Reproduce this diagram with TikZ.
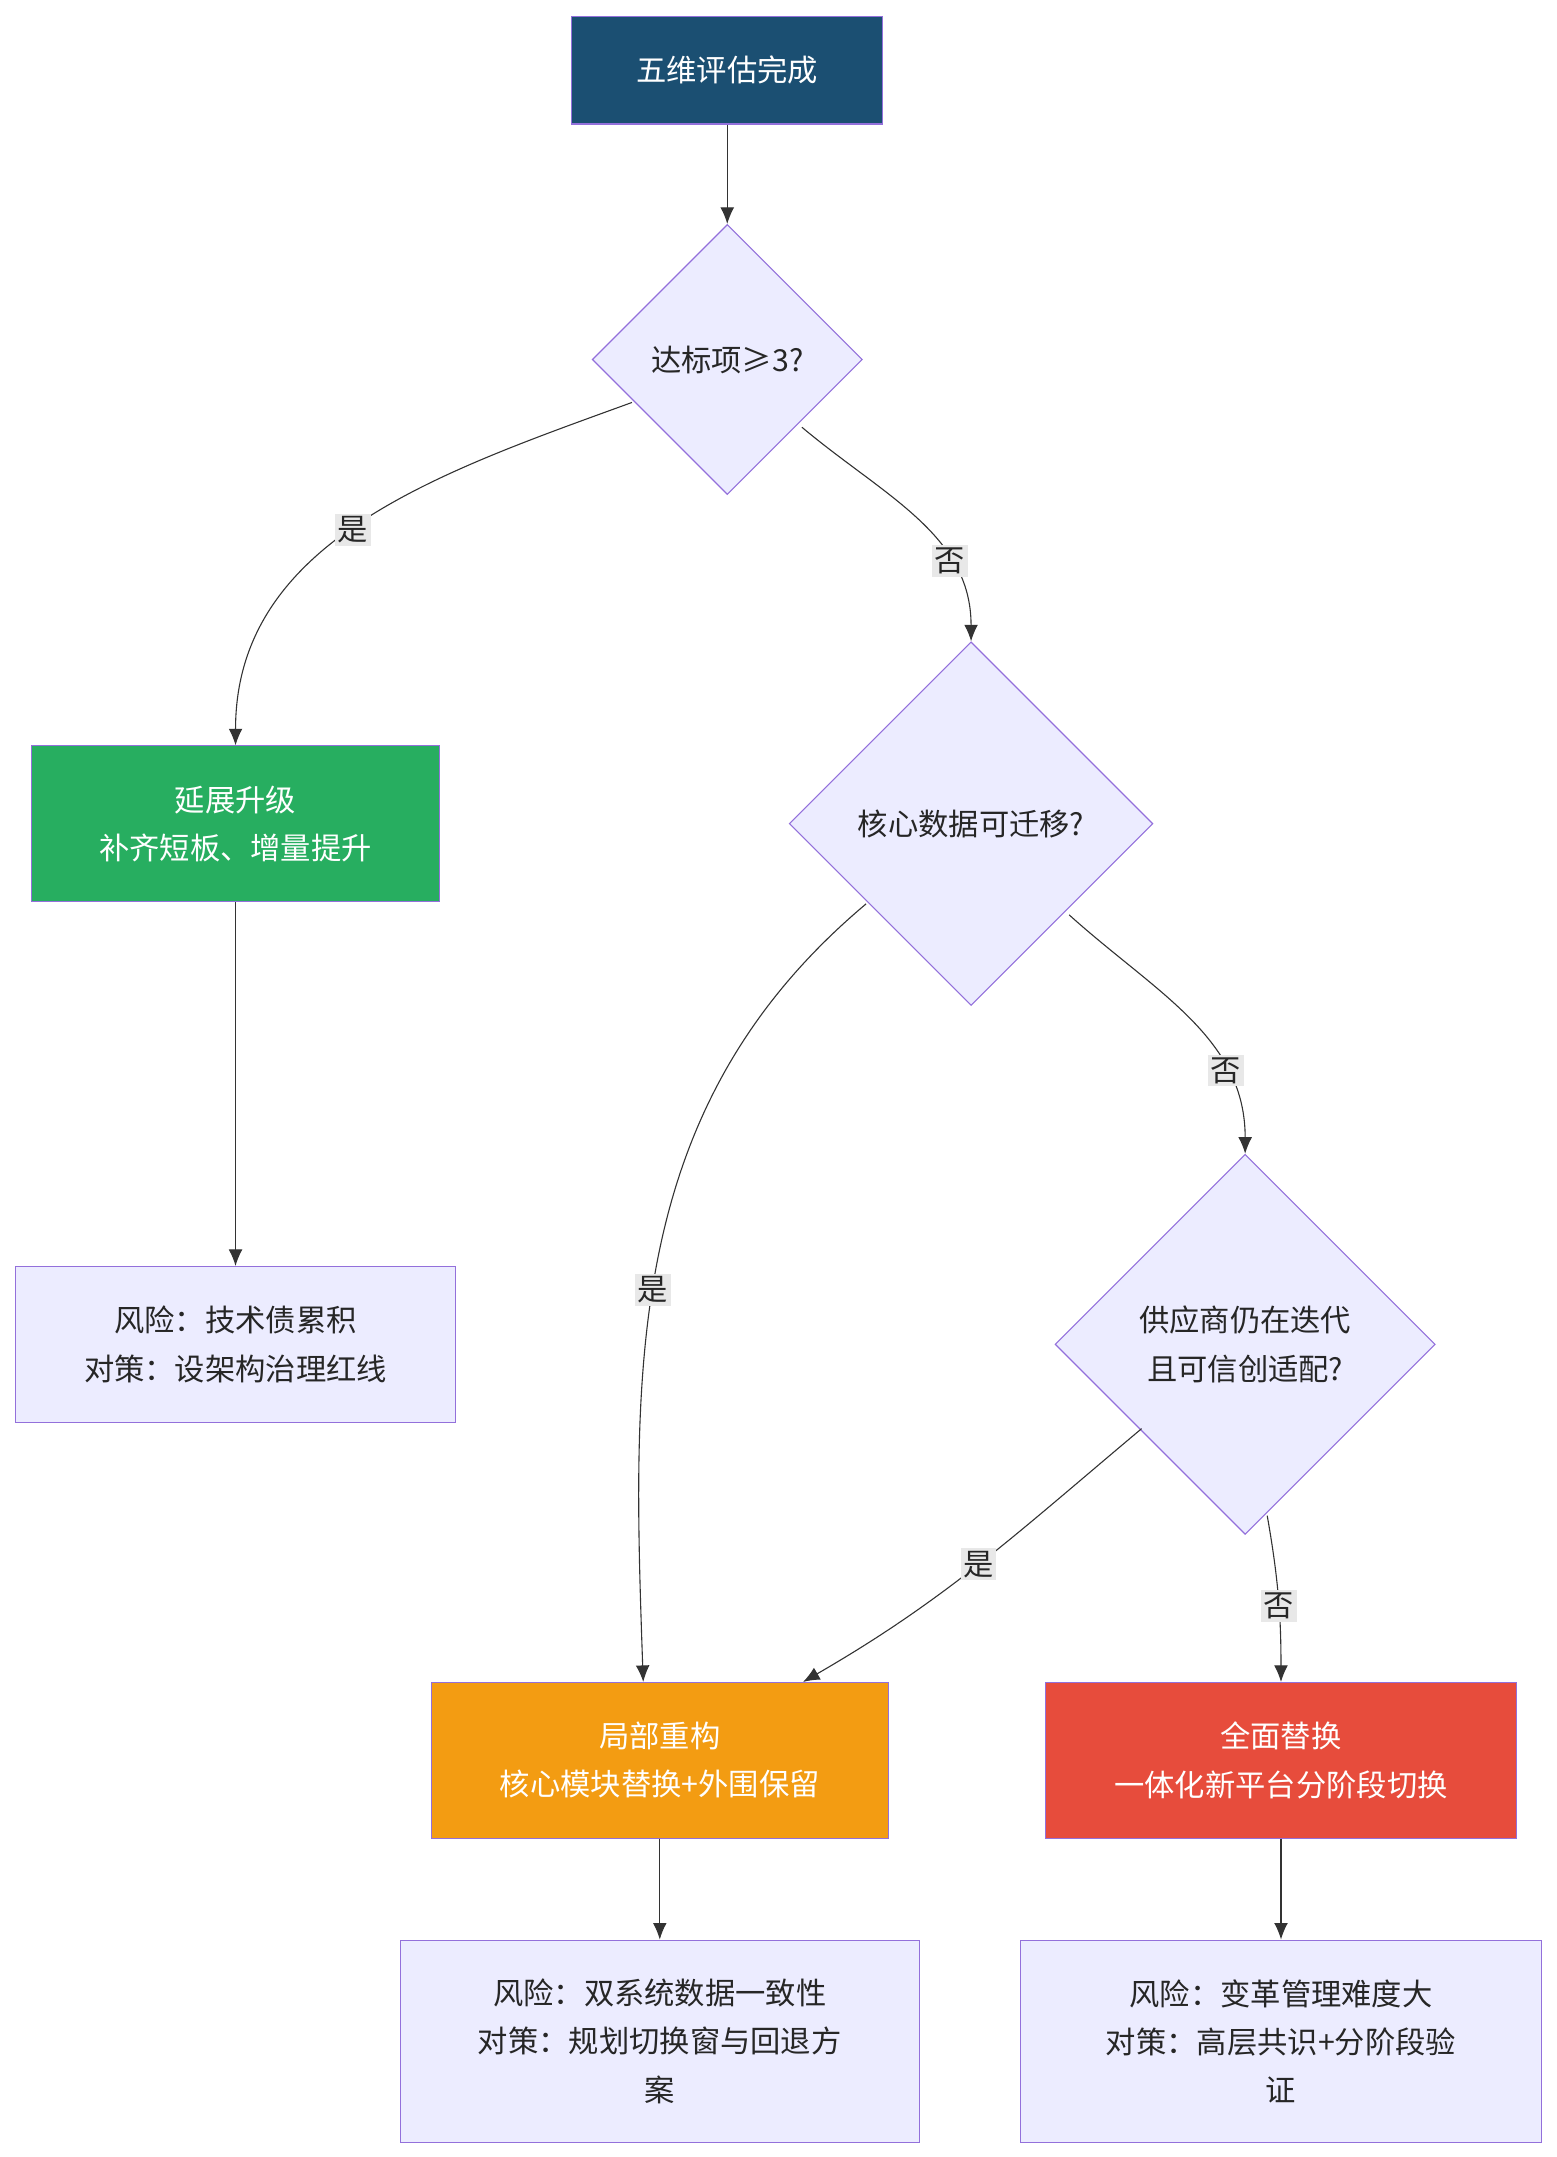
\documentclass[tikz,border=0pt]{standalone}
\usepackage{fontspec}
\setmainfont{Noto Sans CJK SC}
\usetikzlibrary{shapes.geometric,arrows.meta}
\definecolor{boxfill}{HTML}{ECECFF}
\definecolor{boxline}{HTML}{9370DB}
\begin{document}
\begin{tikzpicture}[
    x=0.5pt,y=-0.5pt,
    font=\fontsize{11}{17.5}\selectfont,
    box/.style={rectangle,draw=boxline,fill=boxfill,align=center,text=black!85,minimum height=56.5pt},
    decision/.style={diamond,aspect=1,draw=boxline,fill=boxfill,align=center,inner sep=0pt,text=black!85},
    line/.style={draw=black!80,-{Latex[length=6pt,width=5pt]}},
    lbl/.style={fill=black!9,inner sep=1pt,text=black!85}
]
\useasboundingbox (0,0) rectangle (1130,1566);

% start
\node[box,fill={rgb,255:red,27;green,79;blue,114},text=white,minimum width=113pt,minimum height=39pt] (start) at (528,51) {五维评估完成};

% decisions
\node[decision,minimum size=98pt] (d1) at (528,261) {达标项≥3?};
\node[decision,minimum size=132pt] (d2) at (705,598) {核心数据可迁移?};
\node[decision,minimum size=138pt] (d3) at (904,976) {供应商仍在迭代\\且可信创适配?};

% outcomes
\node[box,fill={rgb,255:red,39;green,174;blue,96},text=white,minimum width=148pt] (up) at (171,598) {延展升级\\补齐短板、增量提升};
\node[box,fill={rgb,255:red,243;green,156;blue,18},text=white,minimum width=166pt] (part) at (479,1278) {局部重构\\核心模块替换+外围保留};
\node[box,fill={rgb,255:red,231;green,76;blue,60},text=white,minimum width=171pt] (full) at (930,1278) {全面替换\\一体化新平台分阶段切换};

% risks
\node[box,minimum width=160pt] (r1) at (171,976) {风险：技术债累积\\对策：设架构治理红线};
\node[box,minimum width=188.5pt,minimum height=73.5pt] (r2) at (479,1482) {风险：双系统数据一致性\\对策：规划切换窗与回退方\\案};
\node[box,minimum width=189pt,minimum height=73.5pt] (r3) at (930,1482) {风险：变革管理难度大\\对策：高层共识+分阶段验\\证};

% edges
\draw[line] (start) -- (d1);
\draw[line] (d1.south west) ++(-20,-18) to[out=200,in=90] node[lbl,pos=0.52] {是} (up.north);
\draw[line] (d1.south east) ++(5,0) to[out=-40,in=90] node[lbl,pos=0.7] {否} (d2.north);
\draw[line] (up) -- (r1);
\draw[line] (d2.south west) ++(-10,-8) to[out=-140,in=92] node[lbl,pos=0.55] {是} ([xshift=-6pt]part.north);
\draw[line] (d2.south east) ++(5,0) to[out=-42,in=90] node[lbl,pos=0.72] {否} (d3.north);
\draw[line] (d3.south west) ++(-6,-8) to[out=-140,in=30] node[lbl,pos=0.5] {是} ([xshift=52pt]part.north);
\draw[line] ([xshift=8pt,yshift=7pt]d3.south) to[out=-80,in=90] node[lbl,pos=0.55] {否} (full.north);
\draw[line] (part) -- (r2);
\draw[line] (full) -- (r3);
\end{tikzpicture}
\end{document}
